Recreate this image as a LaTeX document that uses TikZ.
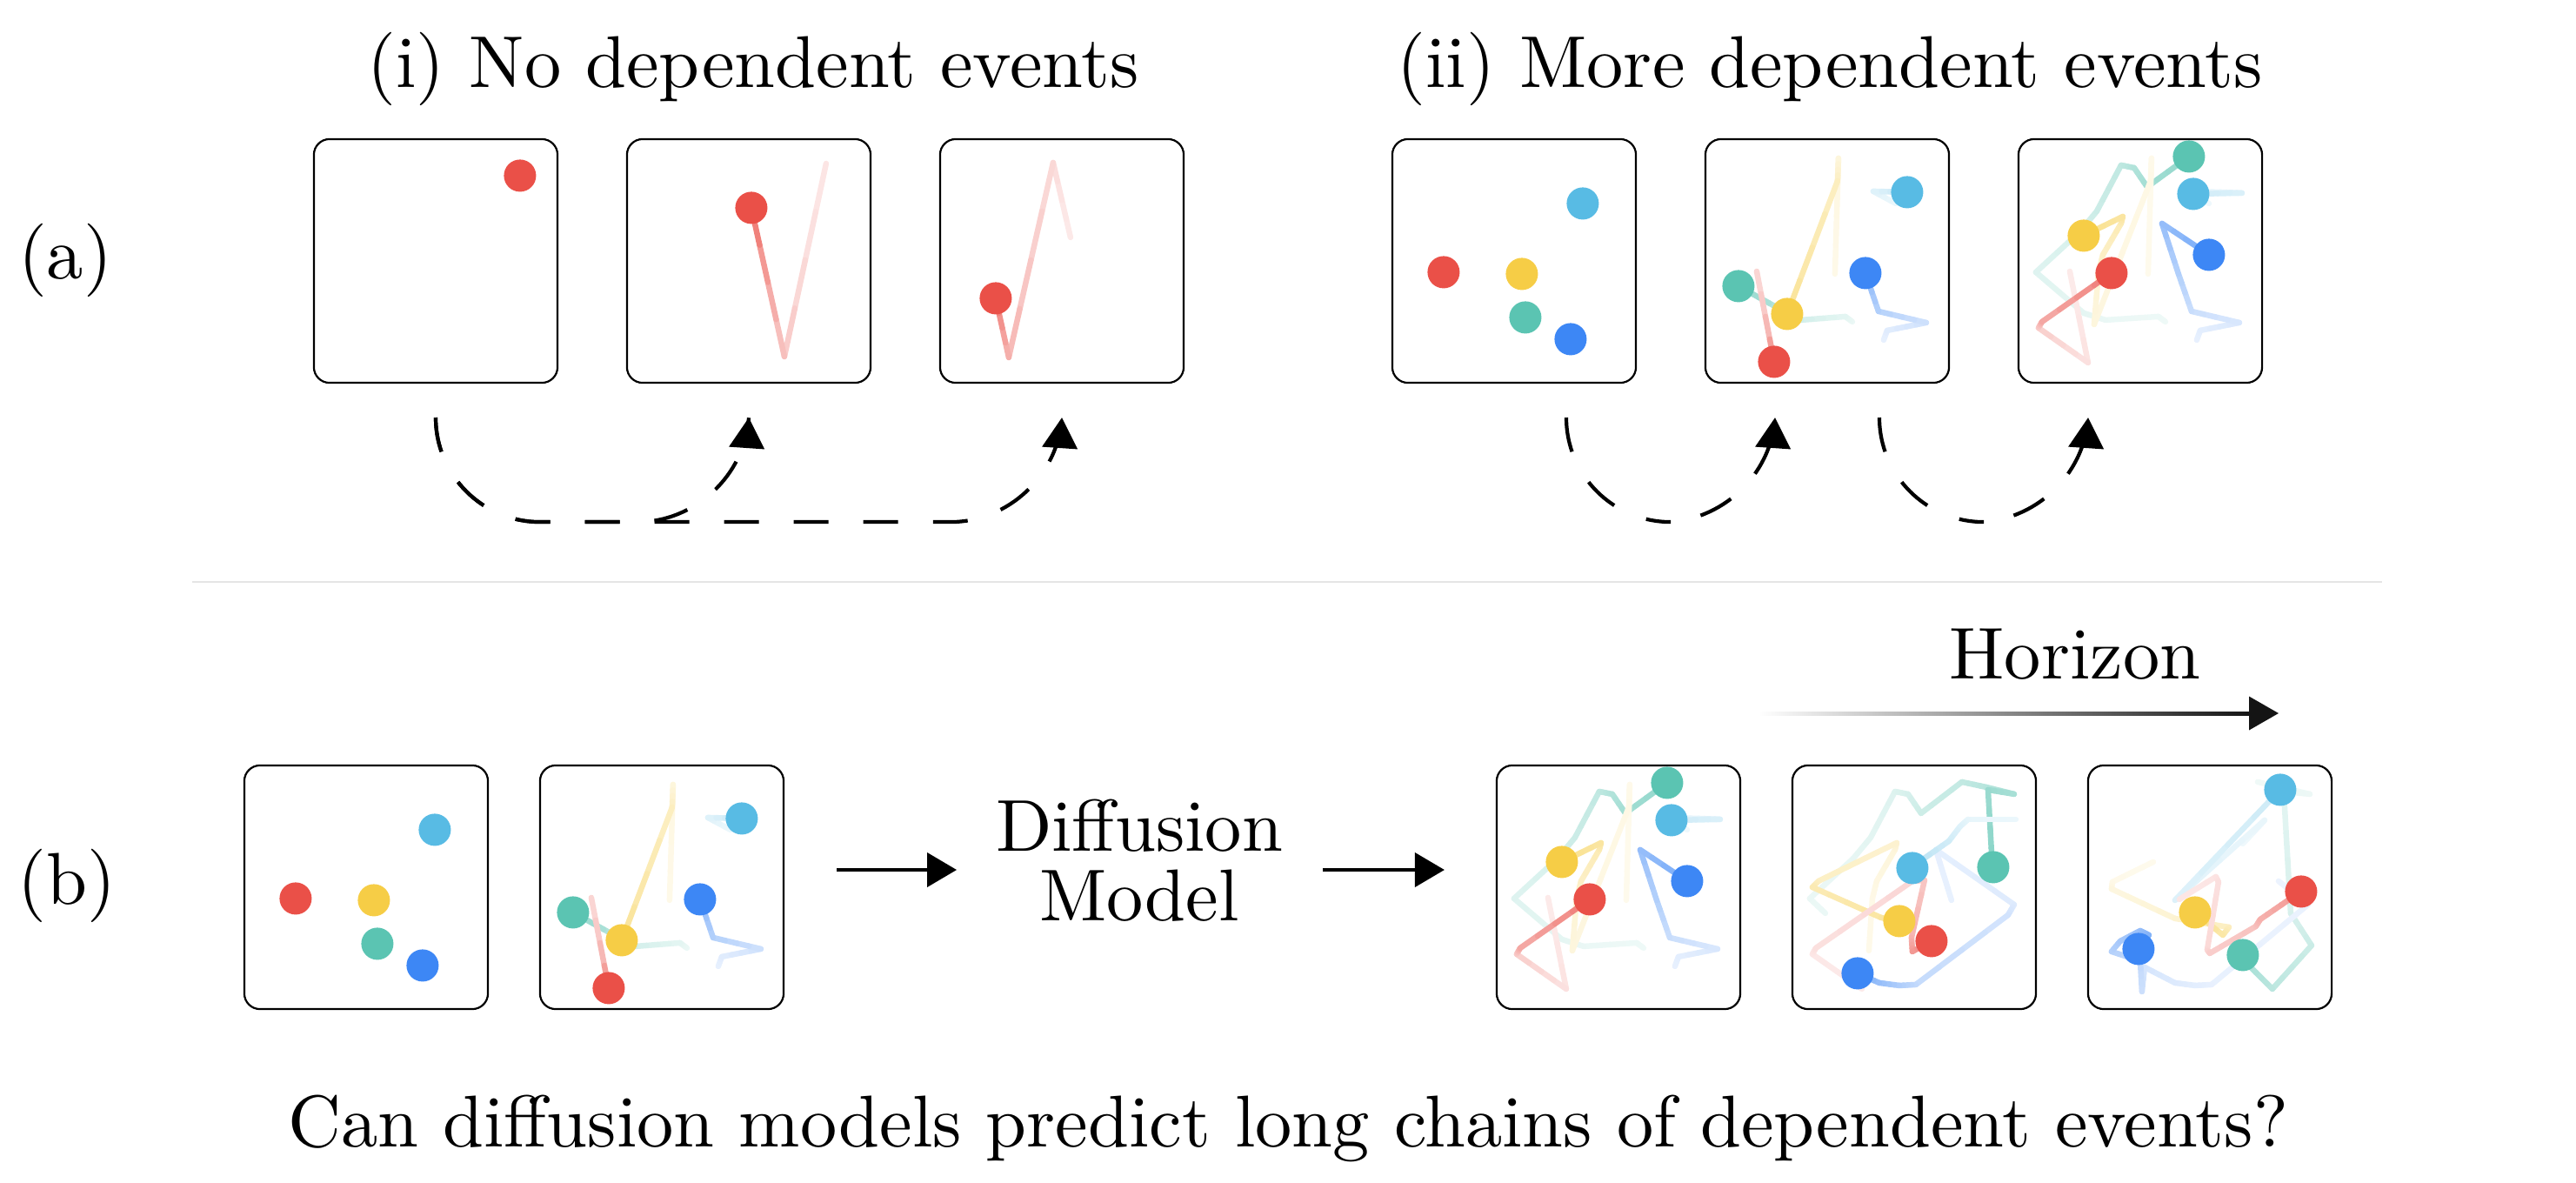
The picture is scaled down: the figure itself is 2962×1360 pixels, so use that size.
\documentclass[tikz,border=0pt]{standalone}
\usepackage{fontspec}
\newfontfamily\lmtenfont{lmroman10-regular.otf}
\usetikzlibrary{arrows.meta,calc}
\definecolor{cred}{RGB}{234,80,72}
\definecolor{cyel}{RGB}{246,205,70}
\definecolor{cteal}{RGB}{91,196,178}
\definecolor{ccyan}{RGB}{88,187,228}
\definecolor{cblue}{RGB}{61,135,245}
\tikzset{
  panel/.style={draw=black, line width=0.022cm, rounded corners=0.18cm, minimum width=2.8cm, minimum height=2.8cm, inner sep=0pt, outer sep=0pt},
  trajline/.style={line width=0.065cm, line cap=round, line join=round},
  lab/.style={font=\lmtenfont\fontsize{24}{22.8}\selectfont, inner sep=0pt, outer sep=0pt},
  dasharrow/.style={line width=0.042cm, dash pattern=on 0.4cm off 0.4cm, rounded corners=1.2cm, -{Triangle[length=0.35cm,width=0.4cm]}},
  solidarrow/.style={line width=0.04cm, -{Triangle[length=0.34cm,width=0.39cm]}},
}
\newcommand\pdot[3]{\fill[#1] (#2,#3) circle[radius=0.185cm];}
% trajectory: colour, start tint, end tint, list of x/y points
\newcommand\traj[4]{%
  \xdef\trajn{0}%
  \foreach \px/\py in {#4}{\xdef\trajn{\the\numexpr\trajn+1\relax}}%
  \foreach \px/\py [count=\ii, remember=\px as \qx, remember=\py as \qy] in {#4}{%
    \ifnum\ii>1
      \foreach \kk in {1,2,3,4}{%
        \pgfmathsetmacro\tinta{#2+(#3-#2)*(((\ii-2)+\kk/4)/(\trajn-1))^2}%
        \pgfmathsetmacro\ax{\qx+(\px-\qx)*(\kk-1)/4}%
        \pgfmathsetmacro\ay{\qy+(\py-\qy)*(\kk-1)/4}%
        \pgfmathsetmacro\bx{\qx+(\px-\qx)*\kk/4}%
        \pgfmathsetmacro\by{\qy+(\py-\qy)*\kk/4}%
        \draw[trajline, draw=#1!\tinta!white] (\ax,\ay) -- (\bx,\by);
      }%
    \fi
  }%
}
% panel contents (coordinates in px from the panel's top-left corner)
\newcommand\panelP{%
  \pdot{ccyan}{219}{74}\pdot{cred}{59}{153}\pdot{cyel}{149}{155}\pdot{cteal}{153}{205}\pdot{cblue}{205}{230}}
\newcommand\panelQ{%
  \traj{ccyan}{12}{32}{219/74,193/60,232/61}%
  \traj{cyel}{12}{52}{149/155,153/22,152/48,94/201}%
  \traj{cblue}{12}{55}{205/231,209/220,254/211,199/198,184/154}%
  \traj{cteal}{12}{65}{169/210,161/204,110/208,85/195,38/169}%
  \traj{cred}{22}{55}{59/152,79/256}%
  \pdot{ccyan}{232}{61}\pdot{cblue}{184}{154}\pdot{cteal}{38}{169}\pdot{cyel}{94}{201}\pdot{cred}{79}{256}}
\newcommand\panelR{%
  \traj{ccyan}{10}{28}{219/74,193/60,232/61,257/62,201/63}%
  \traj{cteal}{10}{65}{169/210,161/204,100/208,75/200,20/153,70/107,90/83,118/30,133/33,148/55,196/20}%
  \traj{cyel}{10}{60}{149/155,153/22,152/48,87/213,92/153,97/133,118/97,120/89,75/111}%
  \traj{cblue}{12}{68}{205/231,209/220,254/211,199/198,184/155,165/97,219/133}%
  \traj{cred}{12}{70}{59/152,80/257,23/217,27/210,107/154}%
  \pdot{cteal}{196}{20}\pdot{ccyan}{201}{63}\pdot{cyel}{75}{111}\pdot{cblue}{219}{133}\pdot{cred}{107}{154}}
\newcommand\panelS{%
  \traj{cteal}{12}{70}{38/170,20/153,70/107,90/83,118/30,133/33,148/55,195/19,223/25,255/33,225/28,230/117}%
  \traj{cblue}{12}{65}{183/155,165/97,255/160,248/172,142/252,123/253,100/250,75/239}%
  \traj{cyel}{12}{60}{88/213,92/153,97/133,118/97,120/89,30/133,23/140,102/175,123/179}%
  \traj{ccyan}{12}{50}{257/62,202/62,193/70,180/87,150/108,138/118}%
  \traj{cred}{12}{70}{80/257,23/217,27/210,138/133,152/132,137/198,138/214,160/202}%
  \pdot{ccyan}{138}{118}\pdot{cteal}{231}{117}\pdot{cyel}{123}{179}\pdot{cred}{160}{202}\pdot{cblue}{75}{239}}
\newcommand\panelT{%
  \traj{ccyan}{10}{28}{178/90,203/63,100/155,221/28}%
  \traj{cteal}{10}{62}{195/19,255/33,226/30,226/47,233/170,257/207,212/257,187/232,178/218}%
  \traj{cyel}{10}{60}{75/111,28/134,27/142,100/176,162/186,155/195,123/169}%
  \traj{cred}{14}{65}{105/154,147/128,150/134,137/212,140/216,193/185,198/177,230/155,245/145}%
  \traj{cblue}{10}{70}{219/133,253/160,142/252,123/253,100/250,65/232,62/260,60/225,27/214,37/202,60/190,70/195,58/211}%
  \pdot{ccyan}{221}{28}\pdot{cred}{245}{145}\pdot{cyel}{123}{169}\pdot{cteal}{178}{218}\pdot{cblue}{58}{211}}
\newcommand\panelU{\pdot{cred}{237}{42}}
\newcommand\panelV{\traj{cred}{14}{72}{229/28,181/250,143/79}\pdot{cred}{143}{79}}
\newcommand\panelW{\traj{cred}{12}{72}{150/113,130/27,79/251,64/183}\pdot{cred}{64}{183}}

\begin{document}
\begin{tikzpicture}[x=0.01cm,y=-0.01cm]
\useasboundingbox (0,0) rectangle (2962,1360);

% titles and labels
\node[lab, anchor=base] (ti) at (866,100) {(i) No dependent events};
\node[lab, anchor=base] (tii) at (2104,100) {(ii) More dependent events};
\node[lab, anchor=base] (la) at (75,320) {(a)};
\node[lab, anchor=base] (lb) at (77,1039) {(b)};

% row (a) panels
\node[panel] (la1) at (501,300) {};
\node[panel] (la2) at (861,300) {};
\node[panel] (la3) at (1221,300) {};
\node[panel] (ra1) at (1741,300) {};
\node[panel] (ra2) at (2101,300) {};
\node[panel] (ra3) at (2461,300) {};
\begin{scope}[shift={(la1.north west)}]\panelU\end{scope}
\begin{scope}[shift={(la2.north west)}]\panelV\end{scope}
\begin{scope}[shift={(la3.north west)}]\panelW\end{scope}
\begin{scope}[shift={(ra1.north west)}]\panelP\end{scope}
\begin{scope}[shift={(ra2.north west)}]\panelQ\end{scope}
\begin{scope}[shift={(ra3.north west)}]\panelR\end{scope}

% dashed arrows
\coordinate (sa1) at ($(la1.south)+(0,40)$);
\coordinate (ea2) at ($(la2.south)+(0,40)$);
\coordinate (ea3) at ($(la3.south)+(0,40)$);
\draw[dasharrow] (sa1) |- ($(ea3)+(-8,120)$) -- (ea3);
\draw[dasharrow] (sa1) |- ($(ea2)+(-8,120)$) -- (ea2);
\coordinate (sr1) at ($(ra1.south)+(60,40)$);
\coordinate (er2) at ($(ra2.south)+(-60,40)$);
\coordinate (sr2) at ($(ra2.south)+(60,40)$);
\coordinate (er3) at ($(ra3.south)+(-60,40)$);
\draw[dasharrow] (sr1) |- ($(er2)+(-8,120)$) -- (er2);
\draw[dasharrow] (sr2) |- ($(er3)+(-8,120)$) -- (er3);

% separator
\coordinate (sepl) at (221,669);
\coordinate (sepr) at (2739,669);
\draw[black!10, line width=0.02cm] (sepl) -- (sepr);

% row (b) panels
\node[panel] (lb1) at (421,1020) {};
\node[panel] (lb2) at (761,1020) {};
\node[panel] (rb1) at (1861,1020) {};
\node[panel] (rb2) at (2201,1020) {};
\node[panel] (rb3) at (2541,1020) {};
\begin{scope}[shift={(lb1.north west)}]\panelP\end{scope}
\begin{scope}[shift={(lb2.north west)}]\panelQ\end{scope}
\begin{scope}[shift={(rb1.north west)}]\panelR\end{scope}
\begin{scope}[shift={(rb2.north west)}]\panelS\end{scope}
\begin{scope}[shift={(rb3.north west)}]\panelT\end{scope}

% diffusion model
\node[lab, align=center] (dm) at (1310,989) {Diffusion\\Model};
\draw[solidarrow] ([shift={(61,-20)}]lb2.east) -- ([shift={(-45,11)}]dm.west);
\draw[solidarrow] ([shift={(46,11)}]dm.east) -- ([shift={(-60,-20)}]rb1.west);

% horizon
\node[lab, anchor=base] (hz) at (2386,780) {Horizon};
\coordinate (hs) at (2022,820);
\coordinate (he) at (2620,820);
\shade[left color=white, right color=black!92] ($(hs)+(0,-2)$) rectangle ($(he)+(-32,2)$);
\fill[black!92] ($(he)+(-34,-19.5)$) -- (he) -- ($(he)+(-34,19.5)$) -- cycle;

% caption
\node[lab, anchor=base] (cap) at (1481,1318) {Can diffusion models predict long chains of dependent events?};
\end{tikzpicture}
\end{document}
